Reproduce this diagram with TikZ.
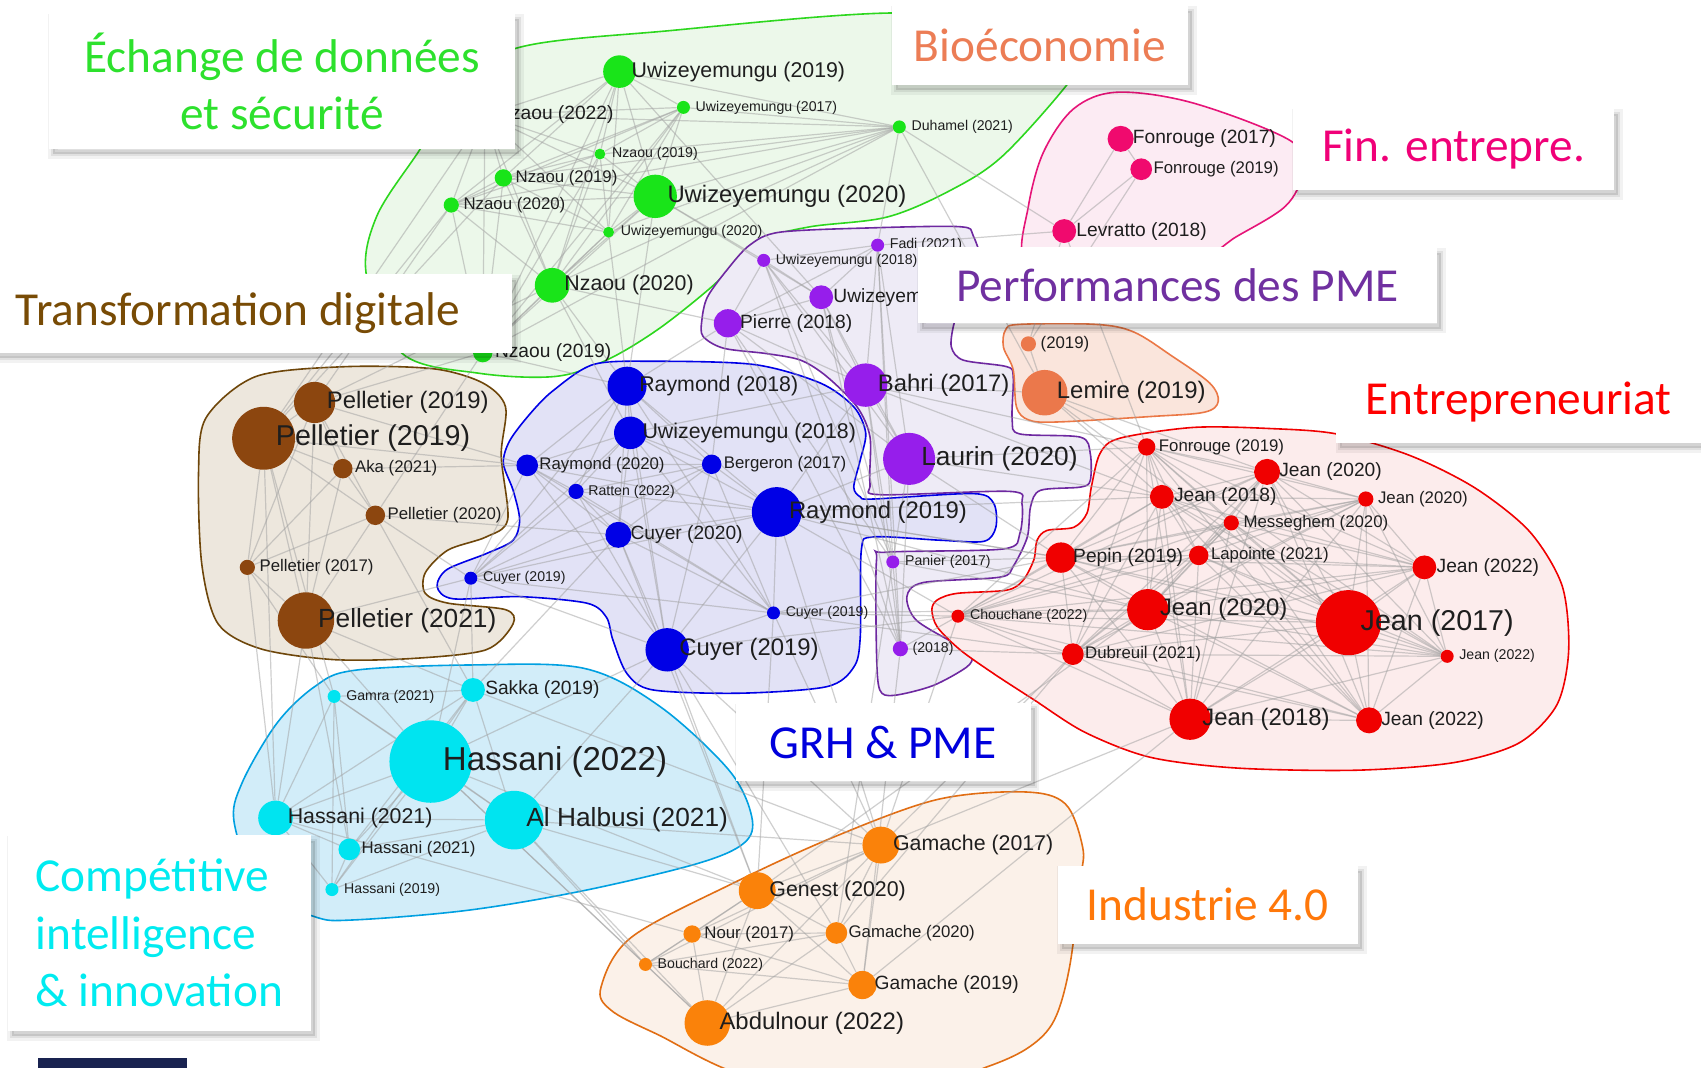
\documentclass[tikz,border=0pt]{standalone}
\usepackage{fontspec}
\usepackage{tikz}
\newfontfamily\pubfont{Liberation Sans}
\newfontfamily\tagfont{Carlito}

% node colours
\definecolor{gNode}{RGB}{25,228,25}
\definecolor{pNode}{RGB}{150,30,235}
\definecolor{bNode}{RGB}{0,0,230}
\definecolor{rNode}{RGB}{240,0,0}
\definecolor{tNode}{RGB}{140,70,15}
\definecolor{cNode}{RGB}{0,228,240}
\definecolor{iNode}{RGB}{250,130,10}
\definecolor{fNode}{RGB}{240,10,110}
\definecolor{eNode}{RGB}{235,120,75}
% hull colours
\definecolor{gLine}{RGB}{45,215,30}    \definecolor{gFill}{RGB}{236,248,234}
\definecolor{pLine}{RGB}{110,40,160}   \definecolor{pFill}{RGB}{238,235,246}
\definecolor{bLine}{RGB}{0,0,230}      \definecolor{bFill}{RGB}{226,226,246}
\definecolor{rLine}{RGB}{240,0,0}      \definecolor{rFill}{RGB}{252,236,236}
\definecolor{tLine}{RGB}{110,70,10}    \definecolor{tFill}{RGB}{237,231,221}
\definecolor{cLine}{RGB}{0,160,225}    \definecolor{cFill}{RGB}{210,237,249}
\definecolor{iLine}{RGB}{225,110,20}   \definecolor{iFill}{RGB}{251,241,233}
\definecolor{fLine}{RGB}{230,20,120}   \definecolor{fFill}{RGB}{252,235,243}
\definecolor{eLine}{RGB}{235,120,70}   \definecolor{eFill}{RGB}{250,229,220}
% title colours
\definecolor{dataC}{RGB}{45,225,45}
\definecolor{bioC}{RGB}{236,125,85}
\definecolor{finC}{RGB}{240,0,120}
\definecolor{perfC}{RGB}{112,48,160}
\definecolor{transC}{RGB}{120,75,5}
\definecolor{entreC}{RGB}{255,0,0}
\definecolor{grhC}{RGB}{0,0,220}
\definecolor{compC}{RGB}{0,235,240}
\definecolor{indC}{RGB}{255,120,10}
\definecolor{barC}{RGB}{25,35,80}

\pgfdeclarelayer{hull}
\pgfdeclarelayer{edge}
\pgfsetlayers{hull,edge,main}

\tikzset{
  pubdot/.style={circle,inner sep=0pt,draw=none},
  link/.style={draw={rgb,255:red,160;green,160;blue,160},line width=0.9pt,opacity=0.5},
  pubtext/.style={inner sep=0pt,text={rgb,255:red,30;green,30;blue,30}},
  lA/.style={pubtext,font=\pubfont\fontsize{10.6}{12}\selectfont},
  lB/.style={pubtext,font=\pubfont\fontsize{12.6}{14}\selectfont},
  lC/.style={pubtext,font=\pubfont\fontsize{14.4}{16}\selectfont},
  lD/.style={pubtext,font=\pubfont\fontsize{16}{18}\selectfont},
  lE/.style={pubtext,font=\pubfont\fontsize{17.9}{20}\selectfont},
  lF/.style={pubtext,font=\pubfont\fontsize{19.7}{22}\selectfont},
  lG/.style={pubtext,font=\pubfont\fontsize{21.5}{24}\selectfont},
  lH/.style={pubtext,font=\pubfont\fontsize{24.8}{28}\selectfont},
  hullpath/.style={line width=1.2pt},
  tagbox/.style={fill=white,inner sep=0pt,font=\tagfont\fontsize{35.5}{43}\selectfont,
    preaction={fill=black,fill opacity=0.12,draw=black,draw opacity=0.05,line width=7pt,
      transform canvas={shift={(3pt,-4pt)}}},
    preaction={draw=black,draw opacity=0.07,line width=3pt,
      transform canvas={shift={(3pt,-4pt)}}}},
}

% one publication: name, x, y, radius, colour, label style, label
\newcommand{\pubnode}[7]{%
  \node[pubdot,fill=#5,minimum size={2*#4*0.8136pt}] (#1) at (#2,#3) {};
  \node[#6,anchor=west] (#1t) at ([xshift=9pt]#1.center) {#7};}

% all links inside one cluster
\newcommand{\clustermesh}[1]{%
  \foreach \a [count=\i] in {#1}{%
    \foreach \b [count=\j] in {#1}{%
      \ifnum\j>\i\relax\draw[link] (\a) -- (\b);\fi}}}

\begin{document}
\begin{tikzpicture}[x=0.8136pt,y=0.8136pt,yscale=-1,xscale=1]
\useasboundingbox (0,0) rectangle (1568,984);

\begin{pgfonlayer}{hull}
  \fill[white] (0,0) rectangle (1568,984);
  %Shape: green hull
  \path[hullpath,draw=gLine,fill=gFill] plot[smooth cycle,tension=0.55] coordinates {(474,45) (620,28) (820,12) (960,22) (990,60) (982,80) (924,144) (877,175) (818,200) (747,209) (700,221) (681,240) (653,267) (606,304) (559,332) (512,347) (441,344) (371,326) (338,255) (347,200) (385,141) (420,90)};
  %Shape: pink hull
  \path[hullpath,draw=fLine,fill=fFill] plot[smooth cycle,tension=0.55] coordinates {(945,240) (948,190) (962,140) (990,100) (1030,85) (1100,95) (1190,130) (1200,160) (1185,190) (1140,218) (1100,240) (1000,246)};
  %Shape: purple hull
  \path[hullpath,draw=pLine,fill=pFill] plot[smooth cycle,tension=0.5] coordinates {(691,226) (719,214) (805,210) (885,209) (897,217) (905,250) (885,285) (879,300) (877,320) (888,332) (928,338) (934,347) (933,387) (940,400) (996,403) (1005,418) (1005,443) (996,449) (959,452) (950,467) (947,495) (934,522) (922,532) (851,537) (836,550) (845,572) (885,596) (896,605) (891,615) (860,632) (824,641) (811,636) (808,602) (808,516) (817,509) (925,506) (940,492) (942,464) (931,453) (811,456) (802,446) (802,403) (790,375) (762,347) (738,332) (707,326) (667,321) (648,310) (647,295) (652,274) (670,249)};
  %Shape: salmon hull
  \path[hullpath,draw=eLine,fill=eFill] plot[smooth cycle,tension=0.55] coordinates {(927,304) (925,320) (934,341) (937,375) (948,387) (974,389) (1060,384) (1110,380) (1123,370) (1115,353) (1080,328) (1045,306) (1010,299) (940,299)};
  %Shape: blue hull
  \path[hullpath,draw=bLine,fill=bFill] plot[smooth cycle,tension=0.5] coordinates {(547,336) (602,333) (695,336) (756,353) (787,375) (798,399) (793,424) (787,449) (793,458) (805,460) (897,455) (916,464) (918,486) (907,499) (867,498) (805,495) (794,507) (793,587) (787,615) (762,633) (682,639) (602,636) (578,621) (565,590) (559,569) (541,556) (479,550) (418,552) (403,541) (412,525) (449,510) (473,498) (479,479) (473,452) (464,427) (470,406) (489,381) (510,360)};
  %Shape: red hull
  \path[hullpath,draw=rLine,fill=rFill] plot[smooth cycle,tension=0.5] coordinates {(1032,404) (1100,394) (1170,395) (1232,400) (1300,420) (1360,450) (1410,490) (1440,540) (1446,600) (1435,650) (1400,685) (1340,703) (1250,710) (1140,708) (1060,698) (1000,675) (953,645) (916,621) (885,599) (864,578) (859,562) (864,553) (882,547) (928,544) (943,535) (953,516) (956,498) (965,489) (990,486) (1002,473) (1006,449) (1014,418)};
  %Shape: brown hull
  \path[hullpath,draw=tLine,fill=tFill] plot[smooth cycle,tension=0.5] coordinates {(183,436) (190,385) (236,347) (318,338) (400,340) (445,353) (466,375) (462,420) (468,479) (448,495) (413,507) (392,528) (392,547) (413,556) (466,562) (473,575) (448,599) (380,607) (307,608) (240,598) (201,575) (186,520)};
  %Shape: cyan hull
  \path[hullpath,draw=cLine,fill=cFill] plot[smooth cycle,tension=0.55] coordinates {(216,759) (223,722) (255,667) (290,633) (326,618) (432,613) (538,616) (608,651) (672,710) (693,753) (686,777) (643,796) (538,821) (432,839) (326,848) (290,845) (240,820)};
  %Shape: orange hull
  \path[hullpath,draw=iLine,fill=iFill] plot[smooth cycle,tension=0.55] coordinates {(554,910) (582,864) (676,814) (770,771) (864,737) (944,730) (982,741) (998,781) (996,811) (986,891) (972,940) (949,965) (911,983) (850,1000) (700,995) (605,953) (563,931)};
\end{pgfonlayer}

% green cluster
\pubnode{gUa}{571}{66}{15}{gNode}{lD}{Uwizeyemungu (2019)}
\pubnode{gUb}{630}{99}{6}{gNode}{lA}{Uwizeyemungu (2017)}
\pubnode{gNa}{447}{106}{8}{gNode}{lC}{Nzaou (2022)}
\pubnode{gDu}{829}{117}{6}{gNode}{lA}{Duhamel (2021)}
\pubnode{gNb}{553}{142}{5}{gNode}{lA}{Nzaou (2019)}
\pubnode{gNc}{464}{164}{8}{gNode}{lB}{Nzaou (2019)}
\pubnode{gNd}{416}{189}{7}{gNode}{lB}{Nzaou (2020)}
\pubnode{gUc}{604}{181}{20}{gNode}{lE}{Uwizeyemungu (2020)}
\pubnode{gUd}{561}{214}{5}{gNode}{lA}{Uwizeyemungu (2020)}
\pubnode{gNe}{509}{263}{16}{gNode}{lD}{Nzaou (2020)}
\pubnode{gNf}{445}{325}{9}{gNode}{lC}{Nzaou (2019)}

% purple cluster
\pubnode{pFa}{809}{226}{6}{pNode}{lA}{Fadi (2021)}
\pubnode{pUa}{704}{240}{6}{pNode}{lA}{Uwizeyemungu (2018)}
\pubnode{pUb}{757}{274}{11}{pNode}{lC}{Uwizeyemungu}
\pubnode{pPi}{671}{298}{13}{pNode}{lC}{Pierre (2018)}
\pubnode{pBa}{798}{355}{20}{pNode}{lE}{Bahri (2017)}
\pubnode{pLa}{838}{423}{24}{pNode}{lF}{Laurin (2020)}
\pubnode{pPa}{823}{518}{6}{pNode}{lA}{Panier (2017)}
\pubnode{pYr}{830}{598}{7}{pNode}{lA}{(2018)}

% salmon and pink clusters
\pubnode{eYr}{948}{317}{7}{eNode}{lB}{(2019)}
\pubnode{eLe}{963}{362}{21}{eNode}{lE}{Lemire (2019)}
\pubnode{fFa}{1033}{128}{12}{fNode}{lC}{Fonrouge (2017)}
\pubnode{fFb}{1052}{156}{10}{fNode}{lB}{Fonrouge (2019)}
\pubnode{fLe}{981}{213}{11}{fNode}{lC}{Levratto (2018)}

% blue cluster
\pubnode{bRa}{578}{356}{18}{bNode}{lD}{Raymond (2018)}
\pubnode{bUw}{581}{399}{15}{bNode}{lD}{Uwizeyemungu (2018)}
\pubnode{bRb}{486}{429}{10}{bNode}{lB}{Raymond (2020)}
\pubnode{bRt}{531}{453}{7}{bNode}{lA}{Ratten (2022)}
\pubnode{bBe}{656}{428}{9}{bNode}{lB}{Bergeron (2017)}
\pubnode{bCa}{570}{493}{12}{bNode}{lC}{Cuyer (2020)}
\pubnode{bRc}{716}{472}{23}{bNode}{lE}{Raymond (2019)}
\pubnode{bCb}{434}{533}{6}{bNode}{lA}{Cuyer (2019)}
\pubnode{bCc}{713}{565}{6}{bNode}{lA}{Cuyer (2019)}
\pubnode{bCd}{615}{599}{20}{bNode}{lE}{Cuyer (2019)}

% brown cluster
\pubnode{tPa}{290}{371}{19}{tNode}{lE}{Pelletier (2019)}
\pubnode{tPb}{243}{404}{29}{tNode}{lG}{Pelletier (2019)}
\pubnode{tAk}{316}{432}{9}{tNode}{lB}{Aka (2021)}
\pubnode{tPc}{346}{475}{9}{tNode}{lB}{Pelletier (2020)}
\pubnode{tPd}{228}{523}{7}{tNode}{lB}{Pelletier (2017)}
\pubnode{tPe}{282}{572}{26}{tNode}{lF}{Pelletier (2021)}

% cyan cluster
\pubnode{cGa}{308}{642}{6}{cNode}{lA}{Gamra (2021)}
\pubnode{cSa}{436}{636}{11}{cNode}{lC}{Sakka (2019)}
\pubnode{cHa}{397}{702}{38}{cNode}{lH}{Hassani (2022)}
\pubnode{cHb}{254}{754}{16}{cNode}{lD}{Hassani (2021)}
\pubnode{cAl}{474}{756}{27}{cNode}{lF}{Al Halbusi (2021)}
\pubnode{cHc}{322}{783}{10}{cNode}{lB}{Hassani (2021)}
\pubnode{cHd}{306}{820}{6}{cNode}{lA}{Hassani (2019)}

% red cluster
\pubnode{rFo}{1057}{412}{8}{rNode}{lB}{Fonrouge (2019)}
\pubnode{rJa}{1168}{435}{12}{rNode}{lC}{Jean (2020)}
\pubnode{rJb}{1071}{458}{11}{rNode}{lC}{Jean (2018)}
\pubnode{rJc}{1259}{460}{7}{rNode}{lB}{Jean (2020)}
\pubnode{rMe}{1135}{482}{7}{rNode}{lB}{Messeghem (2020)}
\pubnode{rPe}{978}{514}{14}{rNode}{lC}{Pepin (2019)}
\pubnode{rLa}{1105}{512}{9}{rNode}{lB}{Lapointe (2021)}
\pubnode{rJd}{1313}{523}{11}{rNode}{lC}{Jean (2022)}
\pubnode{rCh}{883}{568}{6}{rNode}{lA}{Chouchane (2022)}
\pubnode{rJe}{1058}{562}{19}{rNode}{lE}{Jean (2020)}
\pubnode{rJf}{1243}{574}{30}{rNode}{lG}{Jean (2017)}
\pubnode{rDu}{989}{603}{10}{rNode}{lB}{Dubreuil (2021)}
\pubnode{rJg}{1334}{605}{6}{rNode}{lA}{Jean (2022)}
\pubnode{rJh}{1097}{663}{19}{rNode}{lE}{Jean (2018)}
\pubnode{rJi}{1262}{664}{12}{rNode}{lC}{Jean (2022)}

% orange cluster
\pubnode{iGa}{812}{779}{17}{iNode}{lD}{Gamache (2017)}
\pubnode{iGe}{698}{821}{17}{iNode}{lD}{Genest (2020)}
\pubnode{iNo}{638}{861}{8}{iNode}{lB}{Nour (2017)}
\pubnode{iGb}{771}{860}{10}{iNode}{lB}{Gamache (2020)}
\pubnode{iBo}{595}{889}{6}{iNode}{lA}{Bouchard (2022)}
\pubnode{iGc}{795}{908}{13}{iNode}{lC}{Gamache (2019)}
\pubnode{iAb}{652}{943}{21}{iNode}{lE}{Abdulnour (2022)}

% links
\begin{pgfonlayer}{edge}
  \clustermesh{gUa,gUb,gNa,gDu,gNb,gNc,gNd,gUc,gUd,gNe,gNf}
  \clustermesh{pFa,pUa,pUb,pPi,pBa,pLa,pPa,pYr}
  \clustermesh{bRa,bUw,bRb,bRt,bBe,bCa,bRc,bCb,bCc,bCd}
  \clustermesh{tPa,tPb,tAk,tPc,tPd,tPe}
  \clustermesh{cGa,cSa,cHa,cHb,cAl,cHc,cHd}
  \clustermesh{rFo,rJa,rJb,rJc,rMe,rPe,rLa,rJd,rCh,rJe,rJf,rDu,rJg,rJh,rJi}
  \clustermesh{iGa,iGe,iNo,iGb,iBo,iGc,iAb}
  \clustermesh{fFa,fFb,fLe}
  \draw[link] (eYr) -- (eLe);
  \foreach \a/\b in {gDu/fLe,gDu/pFa,gDu/eLe,gUc/pUa,gUc/pUb,gNe/pPi,gNe/bRa,gNf/bRa,gUd/bRa,
      gNe/tPa,gNd/tPa,gNd/tPb,gNf/tPa,gNf/tPc,gNc/tPb,gNa/tPb,gNe/bUw,gUc/bRa,gUa/pUb,
      tPb/bRb,tPc/bCb,tPe/cHa,tPe/cSa,tPa/bRb,tAk/bRb,tPc/bCa,tPe/bCb,tPd/cHb,tPb/cGa,
      tPd/cGa,tPb/cHb,tPe/cHb,tPe/cHc,tPc/cSa,bCd/cHa,bCd/cAl,bCa/cSa,bCb/cHa,bCb/cSa,
      bCd/iGe,bCd/iGa,bRc/iGa,bCc/iGe,bCa/iGe,bCc/iGa,bCd/iGb,
      bRc/pLa,bRc/rJe,bCc/rCh,bUw/pBa,bRa/pPi,bBe/pPi,bRc/pBa,bRc/rPe,bCc/rDu,bRc/rJb,
      pLa/rFo,pLa/rJb,pLa/rPe,pBa/eLe,eLe/rFo,eLe/rJa,eLe/rJf,eLe/rJb,eYr/fLe,eYr/fFb,
      fLe/rFo,fLe/pFa,pPa/rPe,pYr/rDu,pPa/iGb,pYr/iGc,pPa/rJe,pYr/rCh,
      cAl/iGe,cAl/iAb,cHa/iBo,cHb/iNo,cAl/iBo,cHa/iAb,cSa/iGa,cAl/iGa,cHa/iGe,
      rDu/iGa,rJh/iGc,rCh/bCd,rJe/bCc,rPe/bRc,rCh/iGa,rJh/iGa,rDu/iGb,rJe/iGe,
      rCh/bRc,rPe/bCc,rJb/pBa,rFo/pBa}
    \draw[link] (\a) -- (\b);
\end{pgfonlayer}

% title boxes
\node[tagbox,text=dataC,align=center,minimum width=349.8pt,minimum height=101.7pt] (tagData) at (260,75) {Échange de données\\et sécurité};
\node[tagbox,text=bioC,minimum width=222.1pt,minimum height=59.4pt] (tagBio) at (958.5,41.5) {Bioéconomie};
\node[tagbox,text=finC,minimum width=240.8pt,minimum height=61pt] (tagFin) at (1340,137.5) {Fin. entrepre.};
\node[tagbox,text=perfC,minimum width=389.7pt,minimum height=57pt] (tagPerf) at (1085.5,263) {Performances des PME};
\node[tagbox,text=transC,minimum width=410.9pt,minimum height=58.6pt] (tagTrans) at (219.5,289) {Transformation digitale};
\node[tagbox,text=entreC,minimum width=273.4pt,minimum height=61pt] (tagEntre) at (1400,370.5) {Entrepreneuriat};
\node[tagbox,text=grhC,minimum width=221.3pt,minimum height=58.6pt] (tagGrh) at (814,684) {GRH \& PME};
\node[tagbox,text=compC,align=left,minimum width=227.8pt,minimum height=146.4pt] (tagComp) at (147,860) {Compétitive\\intelligence\\\& innovation};
\node[tagbox,text=indC,minimum width=225.4pt,minimum height=58.6pt] (tagInd) at (1113.5,834) {Industrie 4.0};

% bottom bar
\fill[barC] (35,975) rectangle (172,990);
\end{tikzpicture}
\end{document}
